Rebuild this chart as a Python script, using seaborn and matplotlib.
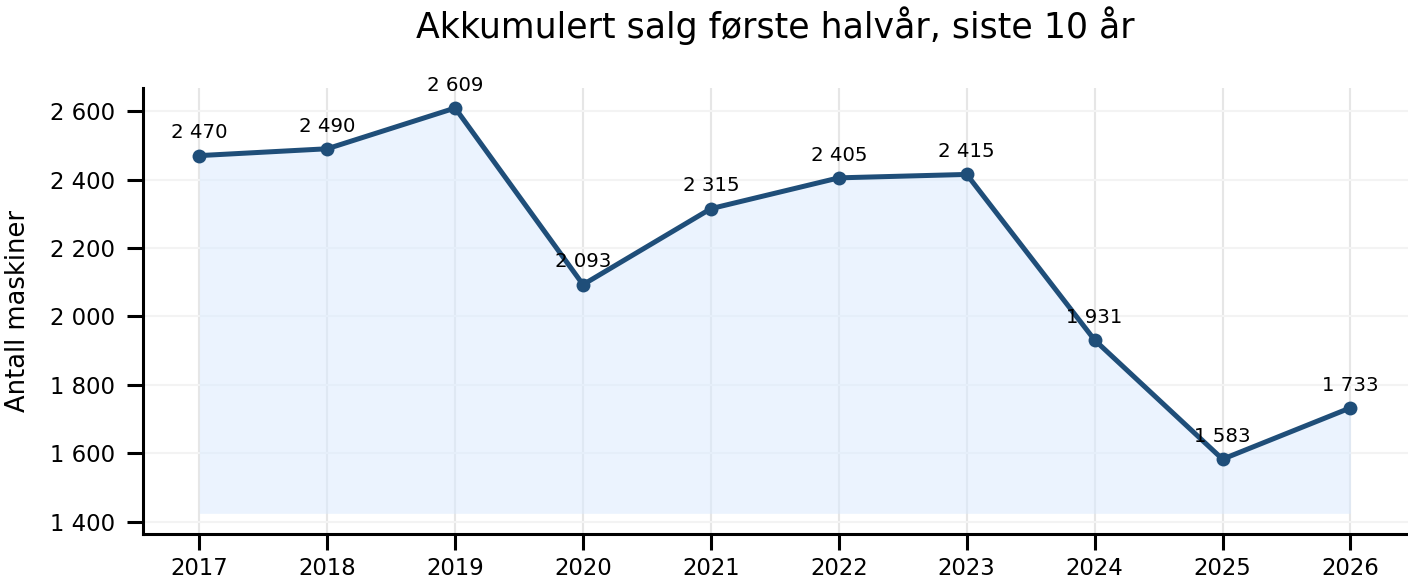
import matplotlib
matplotlib.use("Agg")
import matplotlib.pyplot as plt
import seaborn as sns
import pandas as pd
from matplotlib.ticker import FuncFormatter

years = [2017, 2018, 2019, 2020, 2021, 2022, 2023, 2024, 2025, 2026]
sales = [2470, 2490, 2609, 2093, 2315, 2405, 2415, 1931, 1583, 1733]
title = "Akkumulert salg første halvår, siste 10 år"
ylabel = "Antall maskiner"

sns.set_theme(style="white")
plt.rcParams['font.family'] = ['DejaVu Sans']

df = pd.DataFrame({"År": years, "Salg": sales})
line_color = "#1f4e79"

fig, ax = plt.subplots(figsize=(14.08, 5.84), dpi=100)
fig.subplots_adjust(left=0.1016, right=1.0, top=0.849, bottom=0.086)

base = min(sales) * 0.9
ax.fill_between(df["År"], base, df["Salg"], color="#dbeafe", alpha=0.55, linewidth=0, zorder=1)
sns.lineplot(data=df, x="År", y="Salg", ax=ax, color=line_color, linewidth=3.6,
             marker="o", markersize=10, markeredgewidth=0, zorder=3)

def fmt(v, pos=None):
    return f"{int(round(v)):,}".replace(",", " ")

for x, y in zip(years, sales):
    ax.annotate(fmt(y), (x, y), xytext=(0, 9.5), textcoords="offset points",
                ha="center", va="bottom", fontsize=14.2, color="black", zorder=4)

ax.set_xlim(2016.56, 2026.45)
ax.set_ylim(1365, 2667)
ax.set_xticks(years)
ax.set_xticklabels([str(y) for y in years])
ax.set_yticks([1400, 1600, 1800, 2000, 2200, 2400, 2600])
ax.yaxis.set_major_formatter(FuncFormatter(fmt))

ax.grid(True, axis="x", color="#e6e6e6", linewidth=1.5, zorder=0)
ax.grid(True, axis="y", color="#f3f3f3", linewidth=1.5, zorder=0)
ax.set_axisbelow(True)
sns.despine(ax=ax)
for s in ["left", "bottom"]:
    ax.spines[s].set_color("black")
    ax.spines[s].set_linewidth(2.2)
ax.tick_params(axis="both", which="major", length=11.5, width=2.2, color="black",
               labelsize=16.4, labelcolor="black", bottom=True, left=True)
ax.tick_params(axis="x", pad=5)
ax.tick_params(axis="y", pad=8.5)

ax.set_xlabel("")
ax.set_ylabel(ylabel, fontsize=18.5, color="black", labelpad=14)
ax.set_title(title, fontsize=25, color="black", pad=36)

fig.savefig("out.png", dpi=100)
